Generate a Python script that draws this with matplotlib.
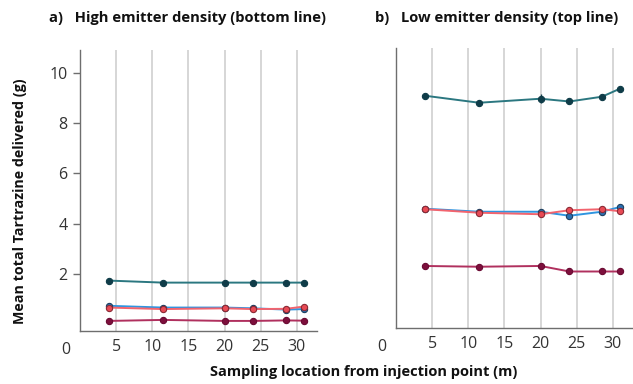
import numpy as np
import matplotlib
matplotlib.use('Agg')
import matplotlib.pyplot as plt

plt.rcParams['font.family'] = ['Open Sans', 'DejaVu Sans']

# Sampling positions (m from injection point)
x_pos = [4, 11.5, 20, 24, 28.5, 31]

# Panel a: high emitter density (bottom line)
a_teal = [1.75, 1.67, 1.67, 1.67, 1.67, 1.67]
a_blue = [0.75, 0.68, 0.68, 0.65, 0.60, 0.62]
a_red = [0.68, 0.62, 0.65, 0.62, 0.63, 0.72]
a_crimson = [0.15, 0.19, 0.15, 0.15, 0.17, 0.16]

# Panel b: low emitter density (top line)
b_teal = [9.0, 8.72, 8.88, 8.77, 8.96, 9.28]
b_teal_err = [0.0, 0.12, 0.18, 0.06, 0.05, 0.05]
b_blue = [4.50, 4.38, 4.38, 4.22, 4.38, 4.57]
b_red = [4.48, 4.34, 4.28, 4.44, 4.48, 4.40]
b_crimson = [2.22, 2.19, 2.22, 2.00, 2.00, 2.00]

grid_x = [5, 10, 15, 20, 25, 30]
y_ticks = [2, 4, 6, 8, 10]

series_style = [
    dict(color='#2b7780', mfc='#0f3c48', mec='#0f3c48'),
    dict(color='#2f95e0', mfc='#2a6fb0', mec='#1d3f60'),
    dict(color='#f2646e', mfc='#e84a55', mec='#8a2a35'),
    dict(color='#b0305e', mfc='#7d0f3c', mec='#6a0a32'),
]

fig = plt.figure(figsize=(6.33, 3.84), dpi=100)
ax_a = fig.add_axes([80 / 633, 1 - 331 / 384, 237 / 633, 281 / 384])
ax_b = fig.add_axes([396 / 633, 1 - 328 / 384, 237 / 633, 280 / 384])


def style_axis(ax, show_y):
    ax.set_xlim(0, 32.8)
    ax.set_ylim(-0.25, 10.9)
    for gx in grid_x:
        ax.axvline(gx, color='#cfcfcf', lw=1.2, zorder=0)
    for s in ['top', 'right']:
        ax.spines[s].set_visible(False)
    for s in ['left', 'bottom']:
        ax.spines[s].set_color('#6e6e6e')
        ax.spines[s].set_linewidth(1.0)
    ax.set_xticks(grid_x)
    ax.tick_params(axis='x', length=0, labelsize=11.5, colors='#333333', pad=6)
    if show_y:
        ax.set_yticks(y_ticks)
        ax.tick_params(axis='y', length=5, width=1, color='#6e6e6e',
                       labelsize=11.5, labelcolor='#333333', pad=4)
    else:
        ax.set_yticks([])
    # the zero label sits left of the axis origin
    ax.text(-0.06, -0.04, '0', transform=ax.transAxes, ha='center', va='top',
            fontsize=11.5, color='#333333')


def draw_series(ax, ys, errs=None):
    for i, y in enumerate(ys):
        st = series_style[i]
        ax.plot(x_pos, y, '-', color=st['color'], lw=1.4, zorder=2)
        ax.plot(x_pos, y, 'o', ms=4.5, mfc=st['mfc'], mec=st['mec'],
                mew=0.8, zorder=3)
        if errs is not None and errs[i] is not None:
            ax.errorbar(x_pos, y, yerr=errs[i], fmt='none',
                        ecolor=st['mfc'], elinewidth=1, capsize=0, zorder=2)


style_axis(ax_a, True)
style_axis(ax_b, False)
draw_series(ax_a, [a_teal, a_blue, a_red, a_crimson])
draw_series(ax_b, [b_teal, b_blue, b_red, b_crimson],
            errs=[b_teal_err, None, None, None])

fig.text(49 / 633, 1 - 18 / 384, 'a)   High emitter density (bottom line)',
         fontsize=10.6, fontweight='bold', va='center', ha='left', color='#111111')
fig.text(375 / 633, 1 - 18 / 384, 'b)   Low emitter density (top line)',
         fontsize=10.6, fontweight='bold', va='center', ha='left', color='#111111')
fig.text(20 / 633, 1 - 201 / 384, 'Mean total Tartrazine delivered (g)',
         fontsize=10.3, fontweight='bold', rotation=90, va='center', ha='center',
         color='#111111')
fig.text(364 / 633, 1 - 372 / 384, 'Sampling location from injection point (m)',
         fontsize=10.5, fontweight='bold', va='center', ha='center', color='#111111')

fig.savefig('out.png', dpi=100)
